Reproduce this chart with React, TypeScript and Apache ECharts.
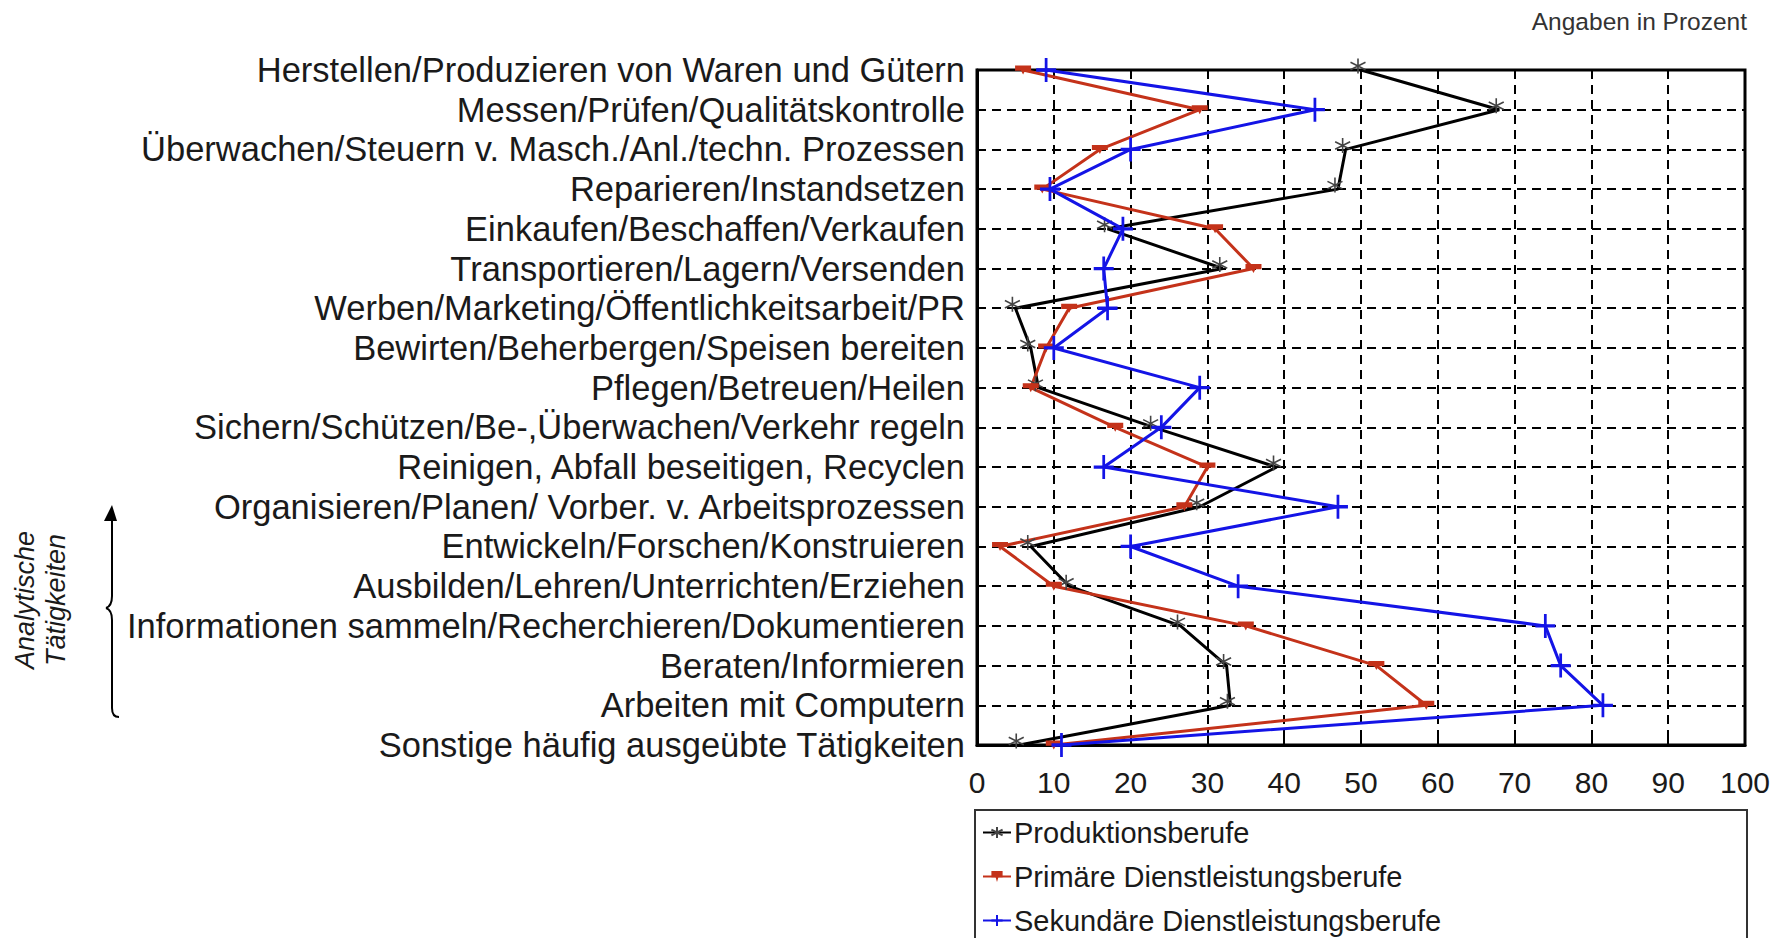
import React, { useEffect, useRef } from "react";
import * as echarts from "echarts";

const categories = [
  "Herstellen/Produzieren von Waren und Gütern",
  "Messen/Prüfen/Qualitätskontrolle",
  "Überwachen/Steuern v. Masch./Anl./techn. Prozessen",
  "Reparieren/Instandsetzen",
  "Einkaufen/Beschaffen/Verkaufen",
  "Transportieren/Lagern/Versenden",
  "Werben/Marketing/Öffentlichkeitsarbeit/PR",
  "Bewirten/Beherbergen/Speisen bereiten",
  "Pflegen/Betreuen/Heilen",
  "Sichern/Schützen/Be-,Überwachen/Verkehr regeln",
  "Reinigen, Abfall beseitigen, Recyclen",
  "Organisieren/Planen/ Vorber. v. Arbeitsprozessen",
  "Entwickeln/Forschen/Konstruieren",
  "Ausbilden/Lehren/Unterrichten/Erziehen",
  "Informationen sammeln/Recherchieren/Dokumentieren",
  "Beraten/Informieren",
  "Arbeiten mit Computern",
  "Sonstige häufig ausgeübte Tätigkeiten",
];

const produktion = [50, 68, 48, 47, 17, 32, 5, 7, 8, 23, 39, 29, 7, 12, 26.5, 32.5, 33, 5.5];
const primaer = [6, 29, 16, 8.5, 31, 36, 12, 9, 7, 18, 30, 27, 3, 10, 35, 52, 58.5, 10];
const sekundaer = [9, 44, 20, 9.5, 19, 16.5, 17, 10, 29, 24, 16.5, 47, 20, 34, 74, 76, 81.5, 11];

const xTicks = [0, 100, 10];

const seriesNames = [
  "Produktionsberufe",
  "Primäre Dienstleistungsberufe",
  "Sekundäre Dienstleistungsberufe",
];

const FONT = "'Liberation Sans', Arial, sans-serif";

export default function App() {
  const ref = useRef<HTMLDivElement>(null);

  useEffect(() => {
    if (!ref.current) return;
    const chart = echarts.init(ref.current, null, { renderer: "svg" });
    const toData = (vals: number[]) => vals.map((v, i) => [v, categories[i]]);

    chart.setOption({
      animation: false,
      backgroundColor: "#ffffff",
      grid: {
        left: 977,
        right: 39,
        top: 70,
        bottom: 193,
        show: true,
        borderColor: "#000",
        borderWidth: 3,
        backgroundColor: "transparent",
        z: 3,
      },
      xAxis: {
        type: "value",
        min: xTicks[0],
        max: xTicks[1],
        interval: xTicks[2],
        axisLine: { show: true, lineStyle: { color: "#000", width: 3 } },
        axisTick: { show: true, inside: true, length: 10, lineStyle: { color: "#000", width: 2 } },
        axisLabel: { fontSize: 30, color: "#1a1a1a", fontFamily: FONT, margin: 22 },
        splitLine: { show: true, lineStyle: { color: "#000", width: 2, type: [9, 6] } },
      },
      yAxis: {
        type: "category",
        data: categories,
        inverse: true,
        boundaryGap: false,
        axisLine: { show: true, lineStyle: { color: "#000", width: 3 } },
        axisTick: { show: false },
        axisLabel: {
          interval: 0,
          fontSize: 34.5,
          color: "#1a1a1a",
          fontFamily: FONT,
          margin: 12,
        },
        splitLine: { show: true, lineStyle: { color: "#000", width: 2, type: [9, 6] } },
      },
      legend: {
        orient: "vertical",
        left: 982,
        top: 818,
        height: 160,
        padding: 0,
        itemGap: 15,
        itemWidth: 28,
        itemHeight: 14,
        textStyle: { fontSize: 29, color: "#1a1a1a", fontFamily: FONT, padding: [0, 0, 0, -2] },
        data: seriesNames,
        z: 10,
      },
      graphic: [
        {
          type: "rect",
          z: 1,
          shape: { x: 975, y: 810, width: 772, height: 140 },
          style: { fill: "#fff", stroke: "#333", lineWidth: 2 },
        },
        {
          type: "text",
          z: 5,
          x: 1747,
          y: 21,
          style: {
            text: "Angaben in Prozent",
            fontSize: 24.5,
            fontFamily: FONT,
            fill: "#333",
            textAlign: "right",
            textVerticalAlign: "middle",
          },
        },
        {
          type: "text",
          z: 5,
          x: 40,
          y: 600,
          rotation: Math.PI / 2,
          style: {
            text: "Analytische\nTätigkeiten",
            fontSize: 27,
            fontStyle: "italic",
            fontFamily: FONT,
            fill: "#1a1a1a",
            textAlign: "center",
            textVerticalAlign: "middle",
            lineHeight: 31,
          },
        },
        {
          type: "polygon",
          z: 5,
          shape: { points: [[112, 505], [104, 521], [117, 521]] },
          style: { fill: "#000" },
        },
        {
          type: "line",
          z: 5,
          shape: { x1: 112, y1: 520, x2: 112, y2: 596 },
          style: { stroke: "#000", lineWidth: 2 },
        },
        {
          type: "bezierCurve",
          z: 5,
          shape: { x1: 112, y1: 596, cpx1: 112, cpy1: 606, x2: 106, y2: 608 },
          style: { stroke: "#000", lineWidth: 2, fill: "none" },
        },
        {
          type: "bezierCurve",
          z: 5,
          shape: { x1: 106, y1: 608, cpx1: 112, cpy1: 610, x2: 112, y2: 620 },
          style: { stroke: "#000", lineWidth: 2, fill: "none" },
        },
        {
          type: "line",
          z: 5,
          shape: { x1: 112, y1: 620, x2: 112, y2: 708 },
          style: { stroke: "#000", lineWidth: 2 },
        },
        {
          type: "bezierCurve",
          z: 5,
          shape: { x1: 112, y1: 708, cpx1: 112, cpy1: 717, x2: 119, y2: 717 },
          style: { stroke: "#000", lineWidth: 2, fill: "none" },
        },
      ],
      series: [
        {
          name: seriesNames[0],
          type: "line",
          data: toData(produktion),
          showAllSymbol: true,
          symbol: "path://M0,-10L0,10M-9,-5L9,5M-9,5L9,-5",
          symbolSize: 15,
          symbolOffset: [-3, -4],
          lineStyle: { color: "#000", width: 3 },
          itemStyle: { color: "#444", borderColor: "#444", borderWidth: 1.6 },
          z: 4,
        },
        {
          name: seriesNames[1],
          type: "line",
          data: toData(primaer),
          showAllSymbol: true,
          symbol: "path://M-8,-3L8,-3L8,1L2,1L0,4L-2,1L-8,1Z",
          symbolSize: [16, 9],
          lineStyle: { color: "#c4321a", width: 3 },
          itemStyle: { color: "#c4321a", borderWidth: 0 },
          z: 4,
        },
        {
          name: seriesNames[2],
          type: "line",
          data: toData(sekundaer),
          showAllSymbol: true,
          symbol: "path://M0,-10L0,10M-10,0L10,0",
          symbolSize: [20, 24],
          lineStyle: { color: "#1414e6", width: 3 },
          itemStyle: { color: "#1414e6", borderColor: "#1414e6", borderWidth: 3 },
          z: 5,
        },
      ],
    });

    return () => chart.dispose();
  }, []);

  return (
    <div
      ref={ref}
      style={{ position: "absolute", left: 0, top: 0, width: 1784, height: 938 }}
    />
  );
}
